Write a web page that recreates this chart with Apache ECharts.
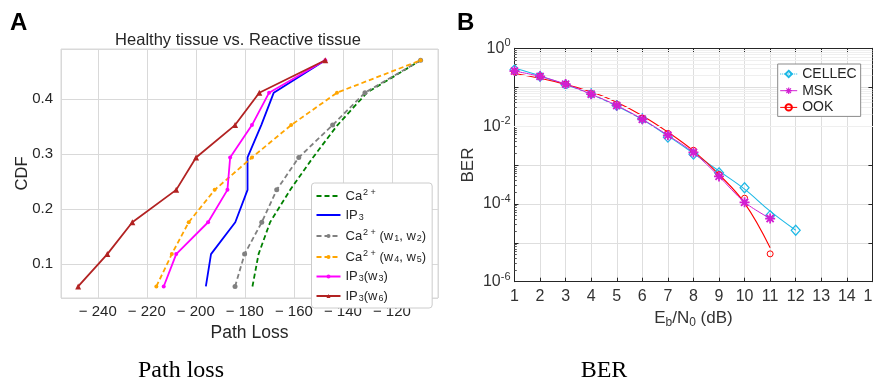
<!DOCTYPE html>
<html><head><meta charset="utf-8">
<script src="https://cdn.jsdelivr.net/npm/echarts@6/dist/echarts.min.js"></script>
<style>html,body{margin:0;padding:0;background:#fff}#c{width:873px;height:385px}</style>
</head><body><div id="c"></div>
<script>
// ---------- Panel A data ----------
const cdfLevels = [0.059, 0.118, 0.176, 0.235, 0.294, 0.353, 0.412, 0.471];
const pathLossCa     = [-176.9, -174.4, -169.7, -161.5, -152.2, -142.2, -130.2, -108.3];
const pathLossIP3    = [-195.9, -193.8, -183.9, -178.9, -178.9, -173.3, -168.2, -147.2];
const pathLossCaW12  = [-184.0, -180.1, -173.1, -167.0, -158.0, -144.2, -131.0, -108.3];
const pathLossCaW45  = [-216.1, -209.8, -202.9, -192.3, -177.1, -161.1, -142.4, -108.3];
const pathLossIP3W3  = [-213.1, -208.0, -195.0, -187.1, -186.0, -177.1, -170.1, -147.2];
const pathLossIP3W6  = [-248.0, -236.1, -225.9, -208.0, -199.9, -184.0, -174.1, -147.2];
const pathLossTicks  = [-240, -220, -200, -180, -160, -140, -120];
const cdfTicks       = [0.1, 0.2, 0.3, 0.4];
const namesA = ['Ca\u00B2\u207A', 'IP\u2083', 'Ca\u00B2\u207A (w\u2081, w\u2082)', 'Ca\u00B2\u207A (w\u2084, w\u2085)', 'IP\u2083(w\u2083)', 'IP\u2083(w\u2086)'];
const richNamesA = ['Ca{sup|2 +}', 'IP{sub|3}', 'Ca{sup|2 +} (w{sub|1}, w{sub|2})', 'Ca{sup|2 +} (w{sub|4}, w{sub|5})', 'IP{sub|3}(w{sub|3})', 'IP{sub|3}(w{sub|6})'];

// ---------- Panel B data ----------
const ebn0      = [1, 2, 3, 4, 5, 6, 7, 8, 9, 10, 11, 12];
const berCellec = [0.28, 0.19, 0.115, 0.068, 0.034, 0.0155, 0.0052, 0.0019, 6.3e-4, 2.6e-4, 5.0e-5, 2.1e-5];
const berMsk    = [0.26, 0.19, 0.12, 0.066, 0.034, 0.015, 0.0058, 0.0021, 5.1e-4, 1.1e-4, 4.2e-5];
const berOok    = [0.25, 0.19, 0.12, 0.068, 0.036, 0.016, 0.0065, 0.0024, 5.7e-4, 1.4e-4, 5.2e-6];
const fitCellec = [0.31, 0.195, 0.117, 0.066, 0.033, 0.0148, 0.0056, 0.0020, 7.0e-4, 2.4e-4, 6.5e-5, 2.1e-5];
const fitOok    = [0.225, 0.17, 0.118, 0.076, 0.041, 0.0185, 0.0070, 0.0023, 5.7e-4, 1.05e-4, 7.5e-6];
const berLabelExps = [0, -2, -4, -6];

const pairs = (xs, ys) => xs.slice(0, ys.length).map((x, i) => [x, ys[i]]);
const cdfPairs = xs => xs.map((x, i) => [x, cdfLevels[i]]);

const minorVals = [];
for (let e = -6; e < 0; e++) for (let k = 2; k <= 9; k++) minorVals.push(+(k * Math.pow(10, e)).toPrecision(3));

const star = 'path://M0,4.1L10,4.1L10,5.9L0,5.9Z M5.9,0L5.9,10L4.1,10L4.1,0Z M2.1,0.8L9.2,7.9L7.9,9.2L0.8,2.1Z M9.2,2.1L2.1,9.2L0.8,7.9L7.9,0.8Z';

const cA = ['#008000', '#0000ff', '#808080', '#ffa500', '#ff00ff', '#b22222'];
const cyan = '#1cb8e6', mag = '#d21fd2', red = '#ff0000';
const gridA = '#d9d9d9';
const none = 'rgba(0,0,0,0)';

function lineA(i, xs, opts) {
  return Object.assign({
    name: namesA[i], type: 'line', xAxisIndex: 0, yAxisIndex: 0,
    data: cdfPairs(xs), symbol: 'none', z: 3 + i,
    lineStyle: { color: cA[i], width: 1.8 }, itemStyle: { color: cA[i] }
  }, opts);
}

const chart = echarts.init(document.getElementById('c'), null, { renderer: 'canvas' });
const option = {
  animation: false,
  textStyle: { fontFamily: 'Liberation Sans' },
  grid: [
    { left: 61, top: 49, width: 377, height: 249, show: true, borderColor: gridA, borderWidth: 1, backgroundColor: '#fff', outerBoundsMode: 'none', containLabel: false },
    { left: 514.5, top: 48.3, width: 357.9, height: 233.4, outerBoundsMode: 'none', containLabel: false }
  ],
  xAxis: [
    { gridIndex: 0, type: 'value', min: -255, max: -101.2, splitNumber: 8,
      axisLine: { show: false }, axisTick: { show: false },
      axisLabel: { customValues: pathLossTicks, formatter: v => '\u2212 ' + Math.abs(v), fontSize: 15, color: '#262626', margin: 6 },
      splitLine: { lineStyle: { color: gridA, width: 1 } },
      name: 'Path Loss', nameLocation: 'middle', nameGap: 22, nameTextStyle: { fontSize: 17.5, color: '#262626' } },
    { gridIndex: 1, type: 'value', min: 1, max: 15, interval: 1, position: 'bottom',
      axisLine: { onZero: false, lineStyle: { color: '#262626', width: 1 } },
      axisTick: { inside: true, length: 4, lineStyle: { color: '#262626' } },
      axisLabel: { fontSize: 16, color: '#333', margin: 7 },
      splitLine: { show: true, lineStyle: { color: '#dedede', width: 1 } },
      name: '{m|E}{s|b}{m|/N}{s|0}{m| (dB)}', nameLocation: 'middle', nameGap: 24,
      nameTextStyle: { rich: { m: { fontSize: 17, color: '#333', fontFamily: 'Liberation Sans' }, s: { fontSize: 12, color: '#333', padding: [10, 0, 0, 0], fontFamily: 'Liberation Sans' } } } },
    { gridIndex: 1, type: 'value', min: 1, max: 15, interval: 1, position: 'top',
      axisLine: { onZero: false, lineStyle: { color: '#262626', width: 1 } },
      axisTick: { inside: true, length: 4, lineStyle: { color: '#262626' } },
      axisLabel: { show: false }, splitLine: { show: false } }
  ],
  yAxis: [
    { gridIndex: 0, type: 'value', min: 0.038, max: 0.4916, splitNumber: 5,
      axisLine: { show: false }, axisTick: { show: false },
      axisLabel: { customValues: cdfTicks, formatter: v => v.toFixed(1), fontSize: 15, color: '#262626', margin: 8 },
      splitLine: { lineStyle: { color: gridA, width: 1 } },
      name: 'CDF', nameLocation: 'middle', nameGap: 30, nameMoveOverlap: false, nameTextStyle: { fontSize: 16.5, color: '#262626' } },
    { gridIndex: 1, type: 'log', logBase: 10, min: 1e-6, max: 1, position: 'left',
      axisLine: { onZero: false, lineStyle: { color: '#262626', width: 1 } },
      axisTick: { inside: true, length: 4, lineStyle: { color: '#262626' } },
      axisLabel: { fontSize: 16, color: '#333', margin: 4,
        formatter: v => { const e = Math.round(Math.log10(v)); return berLabelExps.indexOf(e) >= 0 ? '{b|10}{s|' + e + '}' : ''; },
        rich: { b: { fontSize: 16, color: '#333' }, s: { fontSize: 11, color: '#333', padding: [0, 0, 10, 0] } } },
      splitLine: { show: true, lineStyle: { color: '#dedede', width: 1 } },
      name: 'BER', nameLocation: 'middle', nameGap: 38, nameTextStyle: { fontSize: 17, color: '#333' } },
    { gridIndex: 1, type: 'log', logBase: 10, min: 1e-6, max: 1, position: 'right',
      axisLine: { onZero: false, lineStyle: { color: '#262626', width: 1 } },
      axisTick: { inside: true, length: 4, lineStyle: { color: '#262626' } },
      axisLabel: { show: false }, splitLine: { show: false } }
  ],
  legend: [
    { data: namesA.map((n, i) => i < 2 ? { name: n, itemStyle: { opacity: 0 } } : n),
      left: 311.5, top: 183, orient: 'vertical', padding: [5, 6, 5, 4], itemGap: 6, z: 20,
      itemWidth: 24, itemHeight: 5, backgroundColor: '#fff', borderColor: '#cccccc', borderWidth: 1, borderRadius: 3,
      formatter: n => richNamesA[namesA.indexOf(n)],
      textStyle: { fontSize: 13, lineHeight: 12, color: '#262626', fontFamily: 'Liberation Sans',
        rich: { sup: { fontSize: 9, color: '#262626', padding: [0, 0, 7, 1] }, sub: { fontSize: 9, color: '#262626', padding: [5, 0, 0, 1] } } } },
    { data: [
        { name: 'CELLEC', lineStyle: { color: cyan, width: 1, type: 'dotted', opacity: 1 } },
        { name: 'MSK', lineStyle: { color: mag, width: 1, opacity: 1 } },
        { name: 'OOK', lineStyle: { color: red, width: 1, opacity: 1 } }
      ],
      left: 777.7, top: 64, orient: 'vertical', padding: [3, 4, 2, 2], itemGap: 2.7, z: 20,
      itemWidth: 17, itemHeight: 8, backgroundColor: '#fff', borderColor: '#8a8a8a', borderWidth: 1, borderRadius: 0,
      textStyle: { fontSize: 14, lineHeight: 14, color: '#262626', fontFamily: 'Liberation Sans' } }
  ],
  series: [
    lineA(0, pathLossCa, { lineStyle: { color: cA[0], width: 1.8, type: [5, 3] } }),
    lineA(1, pathLossIP3),
    lineA(2, pathLossCaW12, { symbol: 'circle', symbolSize: 5, lineStyle: { color: cA[2], width: 1.8, type: [5, 3] } }),
    lineA(3, pathLossCaW45, { symbol: 'circle', symbolSize: 4, lineStyle: { color: cA[3], width: 1.8, type: [5, 3] } }),
    lineA(4, pathLossIP3W3, { symbol: 'circle', symbolSize: 4 }),
    lineA(5, pathLossIP3W6, { symbol: 'triangle', symbolSize: 6 }),
    // Panel B minor grid
    { name: 'minor', type: 'line', xAxisIndex: 1, yAxisIndex: 1, data: [], z: 1, silent: true,
      markLine: { silent: true, symbol: ['none', 'none'], label: { show: false }, animation: false,
        lineStyle: { color: '#efefef', type: 'solid', width: 1 }, emphasis: { disabled: true },
        data: minorVals.map(v => ({ yAxis: v })) } },
    // Panel B minor ticks on the left axis
    { name: 'minorTicks', type: 'line', xAxisIndex: 1, yAxisIndex: 1, data: [], z: 7, silent: true,
      markLine: { silent: true, symbol: ['none', 'none'], label: { show: false }, animation: false,
        lineStyle: { color: '#555', type: 'solid', width: 1 }, emphasis: { disabled: true },
        data: minorVals.map(v => [{ coord: [1, v] }, { coord: [1.09, v] }]) } },
    // fitted curves
    { name: 'CELLEC fit', type: 'line', xAxisIndex: 1, yAxisIndex: 1, data: pairs(ebn0, fitCellec), smooth: 0.4,
      symbol: 'none', lineStyle: { color: cyan, width: 1.1 }, z: 3 },
    { name: 'OOK fit', type: 'line', xAxisIndex: 1, yAxisIndex: 1, data: pairs(ebn0, fitOok), smooth: 0.4,
      symbol: 'none', lineStyle: { color: red, width: 1.1 }, z: 3 },
    // markers
    { name: 'CELLEC', type: 'line', xAxisIndex: 1, yAxisIndex: 1, data: pairs(ebn0, berCellec),
      symbol: 'diamond', symbolSize: [9, 10], lineStyle: { opacity: 0, color: cyan, width: 1, type: 'dotted' },
      itemStyle: { color: none, borderColor: cyan, borderWidth: 1.2 }, z: 4 },
    { name: 'OOK', type: 'line', xAxisIndex: 1, yAxisIndex: 1, data: pairs(ebn0, berOok),
      symbol: 'circle', symbolSize: 6, lineStyle: { opacity: 0, color: red, width: 1 },
      itemStyle: { color: none, borderColor: red, borderWidth: 1 }, z: 5 },
    { name: 'MSK', type: 'line', xAxisIndex: 1, yAxisIndex: 1, data: pairs(ebn0, berMsk), smooth: 0.3,
      symbol: star, symbolSize: 10, lineStyle: { color: mag, width: 1 }, itemStyle: { color: mag }, z: 6 }
  ],
  graphic: [
    { type: 'text', x: 10, y: 11, style: { text: 'A', font: 'bold 24px "Liberation Sans"', fill: '#000' } },
    { type: 'text', x: 457, y: 11, style: { text: 'B', font: 'bold 24px "Liberation Sans"', fill: '#000' } },
    { type: 'text', x: 238, y: 40, style: { text: 'Healthy tissue vs. Reactive tissue', font: '16.5px "Liberation Sans"', fill: '#262626', align: 'center', verticalAlign: 'middle' } },
    { type: 'text', x: 181, y: 371, style: { text: 'Path loss', font: '24px "Liberation Serif"', fill: '#000', align: 'center', verticalAlign: 'middle' } },
    { type: 'text', x: 604, y: 371, style: { text: 'BER', font: '24px "Liberation Serif"', fill: '#000', align: 'center', verticalAlign: 'middle' } }
  ]
};
chart.setOption(option);
</script>
</body></html>
